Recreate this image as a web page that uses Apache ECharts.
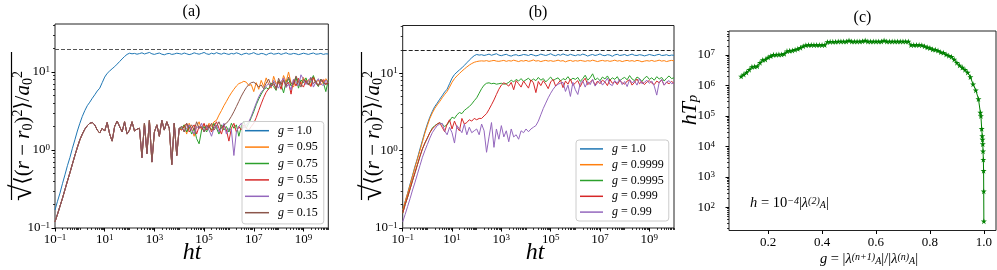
<!DOCTYPE html>
<html><head><meta charset="utf-8">
<script src="https://cdn.jsdelivr.net/npm/echarts@6/dist/echarts.min.js"></script>
<style>html,body{margin:0;padding:0;background:#fff}#c{width:997px;height:270px}</style>
</head><body><div id="c"></div><script>
// ---------------- DATA ----------------
// time grid: exponent of ht (log10)
const htExp = [
 -1.0,-0.9,-0.8,-0.7,-0.6,-0.5,-0.4,-0.3,-0.2,-0.1,
 0.0,0.1,0.2,0.3,0.4,0.5,0.6,0.7,0.8,0.9,
 1.0,1.1,1.2,1.3,1.4,1.5,1.6,1.7,1.8,1.9,
 2.0,2.1,2.2,2.3,2.4,2.5,2.6,2.7,2.8,2.9,
 3.0,3.1,3.2,3.3,3.4,3.5,3.6,3.7,3.8,3.9,
 4.0,4.1,4.2,4.3,4.4,4.5,4.6,4.7,4.8,4.9,
 5.0,5.1,5.2,5.3,5.4,5.5,5.6,5.7,5.8,5.9,
 6.0,6.1,6.2,6.3,6.4,6.5,6.6,6.7,6.8,6.9,
 7.0,7.1,7.2,7.3,7.4,7.5,7.6,7.7,7.8,7.9,
 8.0,8.1,8.2,8.3,8.4,8.5,8.6,8.7,8.8,8.9,
 9.0,9.1,9.2,9.3,9.4,9.5,9.6,9.7,9.8,9.9,
 10.0];

const legendA = ['1.0','0.95','0.75','0.55','0.35','0.15'];
const legendB = ['1.0','0.9999','0.9995','0.999','0.99'];
const saturationLevel = 19.7;

// g = 1.0 (same in panels a and b)
const blueG1 = [
 0.17,0.22,0.28,0.37,0.48,0.63,0.80,1.05,1.35,1.75,
 2.2,2.7,3.2,3.7,4.1,4.6,5.1,5.7,6.2,7.3,
 8.6,9.6,10.3,11.0,11.7,12.6,13.6,14.7,15.8,16.8,
 17.4,17.1,17.3,16.9,17.2,17.6,17.0,17.4,17.8,17.1,
 16.8,17.2,17.5,16.9,16.6,17.1,17.3,16.8,17.0,17.4,
 17.2,16.9,17.5,17.1,16.7,17.0,17.6,17.2,16.9,17.3,
 17.8,17.1,16.8,17.4,17.0,17.7,17.2,16.9,17.5,17.1,
 16.8,17.3,17.0,17.6,17.2,16.6,17.1,17.4,16.9,17.2,
 17.7,17.0,16.8,17.3,17.1,16.5,17.2,17.5,16.9,17.1,
 17.4,16.8,17.2,17.6,17.0,16.9,17.3,17.1,16.7,17.0,
 17.4,17.1,16.8,17.2,17.5,16.9,17.0,17.3,16.8,17.1,
 17.0];

// panel (a): common early part (ht = 1e-1 .. 1e4) for g < 1
const earlyA = [
 0.12,0.15,0.19,0.24,0.31,0.40,0.51,0.66,0.85,1.08,
 1.35,1.6,1.85,2.05,2.2,2.25,2.1,1.8,1.65,1.9,
 1.75,2.25,1.6,1.3,2.0,2.35,2.0,1.7,2.3,1.6,
 1.8,2.3,1.75,1.85,1.9,0.8,2.2,0.9,2.4,0.7,
 1.7,2.1,1.5,2.4,1.8,2.3,1.9,0.65,2.2,0.85,
 1.9];
// panel (a): late parts (ht = 10^4.1 .. 10^10)
const orangeLateA = [
 1.8,2.1,1.6,2.2,1.9,1.5,2.0,2.3,1.8,2.1,
 1.9,2.2,2.0,2.3,2.4,2.8,3.2,3.7,4.2,4.8,
 5.4,6.0,6.6,7.1,7.3,7.6,7.4,6.7,6.9,5.6,
 7.3,6.0,7.8,6.5,8.4,7.0,6.2,8.8,7.1,7.7,
 6.8,9.0,7.4,10.0,7.2,6.4,8.3,7.6,6.9,8.5,
 7.1,8.0,6.6,8.7,7.3,7.9,6.8,7.5,8.2,7.4];
const greenLateA = [
 1.9,2.1,1.7,2.0,1.6,1.9,1.4,1.2,1.8,2.0,
 1.7,2.0,1.8,2.2,1.9,1.6,2.1,1.8,2.0,1.7,
 2.2,1.9,2.1,1.5,2.0,2.3,1.9,2.2,2.6,3.1,
 3.8,4.5,5.2,5.9,6.3,6.0,7.2,6.5,5.8,7.7,
 6.9,5.4,7.5,8.2,6.6,7.1,8.6,6.2,7.9,7.3,
 8.4,6.8,7.6,9.0,7.2,6.5,8.1,7.4,5.6,7.9];
const redLateA = [
 1.8,2.0,2.2,1.7,1.9,2.1,1.6,2.0,1.9,2.2,
 1.8,2.1,1.7,2.0,2.3,1.9,1.6,2.1,1.8,1.3,
 1.9,2.2,1.7,2.0,1.8,2.1,1.9,1.8,2.0,2.2,
 2.6,3.2,3.9,4.7,5.5,6.1,6.6,7.0,6.3,7.5,
 6.0,8.0,6.8,7.4,5.2,7.9,6.6,8.3,7.0,6.4,
 7.8,7.1,6.5,8.5,7.2,6.8,7.5,8.0,6.9,7.3];
const purpleLateA = [
 2.0,1.7,1.9,2.1,1.8,1.6,2.0,1.9,2.2,1.7,
 2.0,1.8,1.5,1.9,2.1,1.7,1.9,2.2,1.6,1.9,
 1.8,0.85,1.7,2.0,2.2,1.9,2.1,2.3,2.7,3.3,
 4.0,4.8,5.5,6.0,6.6,7.1,6.4,7.8,6.9,6.2,
 7.5,8.4,6.3,7.0,5.9,8.1,7.3,6.6,9.2,8.0,
 6.9,7.7,8.6,6.4,7.4,8.2,7.0,6.7,7.9,7.2];
const brownLateA = [
 2.0,1.7,2.2,1.9,2.1,1.8,2.3,1.9,2.0,1.7,
 2.1,1.9,2.2,1.8,2.0,2.3,1.9,2.1,2.2,2.4,
 2.7,3.1,3.6,4.2,4.9,5.6,6.3,6.9,7.3,7.4,
 7.0,6.4,6.8,6.1,7.2,8.1,6.6,7.4,5.9,8.3,
 7.0,7.8,6.5,8.6,7.2,6.9,8.9,7.5,6.4,8.0,
 7.6,6.8,8.4,7.1,7.7,6.6,8.1,7.3,6.9,7.8];

// panel (b)
const orangeB = [
 0.17,0.22,0.28,0.36,0.47,0.61,0.78,1.0,1.3,1.68,
 2.1,2.6,3.05,3.5,3.9,4.3,4.8,5.3,5.8,6.6,
 7.6,8.5,9.2,9.9,10.6,11.3,12.0,12.7,13.3,13.8,
 14.1,14.3,14.4,14.3,14.5,14.2,14.4,14.6,14.3,14.2,
 14.4,14.6,14.2,14.5,14.3,14.7,14.4,14.1,14.5,14.3,
 14.6,14.2,14.4,14.8,14.3,14.5,14.1,14.4,14.6,14.3,
 14.5,14.2,14.4,14.7,14.3,14.5,14.0,14.4,14.6,14.2,
 14.5,14.3,14.6,14.4,14.2,14.5,14.3,14.7,14.4,14.1,
 14.4,14.6,14.3,14.5,14.2,14.4,14.7,14.3,14.5,14.1,
 14.4,14.6,14.3,14.5,14.2,14.6,14.4,14.0,14.3,14.5,
 14.3,14.6,14.2,14.4,14.7,14.3,14.5,14.1,14.4,14.6,
 14.4];
const greenB = [
 0.155,0.20,0.25,0.32,0.41,0.52,0.66,0.84,1.05,1.25,
 1.45,1.7,1.95,2.1,2.2,2.28,2.2,2.05,2.15,2.4,
 2.7,2.6,2.9,3.1,3.0,3.3,3.5,3.7,4.0,4.4,
 4.8,5.5,6.3,7.0,7.4,7.5,7.3,7.4,7.2,7.3,
 7.4,7.2,7.3,7.6,8.1,7.7,8.3,7.9,8.5,7.8,
 8.2,8.6,7.9,8.4,8.0,8.8,8.1,8.5,7.7,8.3,
 8.9,8.0,8.4,8.7,7.9,8.5,8.2,9.0,8.1,8.6,
 8.3,8.8,7.8,8.5,9.4,8.1,8.7,9.8,8.2,8.6,
 8.0,8.9,8.4,9.2,8.1,8.7,8.3,9.0,7.9,8.5,
 8.8,8.2,9.3,8.4,8.0,8.9,8.5,7.8,8.6,9.1,
 8.3,8.7,8.1,9.0,8.4,8.8,7.9,8.6,9.2,8.5,
 8.7];
const redB = [
 0.155,0.20,0.25,0.32,0.41,0.52,0.66,0.84,1.05,1.25,
 1.45,1.7,1.9,2.05,2.2,2.3,2.0,1.75,2.2,2.5,
 1.9,2.4,2.0,1.8,2.6,2.2,2.3,2.5,2.4,2.6,
 2.5,2.6,2.6,2.8,3.0,3.4,3.9,4.5,5.3,6.2,
 7.0,7.5,7.2,6.8,7.6,6.1,8.0,7.3,6.6,7.9,
 7.1,6.4,8.2,7.5,5.6,7.8,6.9,8.0,7.2,6.3,
 7.7,8.3,6.8,7.4,8.1,6.5,7.9,7.2,8.4,6.9,
 7.5,8.0,6.7,7.8,8.6,7.1,7.6,8.2,7.0,7.9,
 7.3,8.1,7.7,6.9,8.3,7.4,7.8,7.1,8.0,7.5,
 7.2,7.9,8.2,7.0,7.6,8.4,7.3,7.8,7.1,7.7,
 8.0,7.4,7.1,7.9,7.5,8.2,7.0,7.6,7.3,7.8,
 7.4];
const purpleB = [
 0.12,0.15,0.19,0.24,0.31,0.39,0.50,0.64,0.82,1.0,
 1.2,1.45,1.7,1.9,2.1,2.2,2.25,1.8,1.6,2.0,
 1.7,1.25,2.1,1.9,1.7,2.2,1.6,2.0,1.7,1.8,
 1.9,1.6,2.2,1.8,0.95,1.5,2.3,1.1,1.9,1.4,
 2.1,1.5,1.8,1.3,1.9,1.5,1.6,1.4,1.8,1.7,
 1.9,1.75,1.9,2.0,2.1,2.4,2.9,3.5,4.1,4.8,
 5.5,6.2,6.8,7.2,7.4,7.6,5.8,7.0,5.0,7.6,
 6.1,5.3,7.4,8.0,6.6,7.8,7.1,8.3,6.8,7.5,
 8.1,7.0,7.7,8.6,7.2,6.9,8.0,7.4,8.4,7.1,
 7.8,6.7,8.2,7.5,7.9,7.0,8.5,7.3,7.6,8.1,
 7.4,7.9,6.8,5.2,7.6,8.3,7.0,7.7,8.0,7.3,
 7.5];

// panel (c)
const gValues = [
 0.10,0.11,0.12,0.13,0.14,0.15,0.16,0.17,0.18,0.19,
 0.20,0.21,0.22,0.23,0.24,0.25,0.26,0.27,0.28,0.29,
 0.30,0.31,0.32,0.33,0.34,0.35,0.36,0.37,0.38,0.39,
 0.40,0.41,0.42,0.43,0.44,0.45,0.46,0.47,0.48,0.49,
 0.50,0.51,0.52,0.53,0.54,0.55,0.56,0.57,0.58,0.59,
 0.60,0.61,0.62,0.63,0.64,0.65,0.66,0.67,0.68,0.69,
 0.70,0.71,0.72,0.73,0.74,0.75,0.76,0.77,0.78,0.79,
 0.80,0.81,0.82,0.83,0.84,0.85,0.86,0.87,0.88,0.89,
 0.90,0.91,0.92,0.93,0.94,0.95,0.96,0.97,0.98,
 0.987,0.989,0.992,0.994,0.995,0.996,0.997,0.998,0.999,0.9995,1.0];
const hTp = [
 2.0e6,2.3e6,2.7e6,3.3e6,4.1e6,4.2e6,4.3e6,5.6e6,6.9e6,7.2e6,
 8.4e6,9.3e6,1.02e7,1.03e7,1.04e7,1.05e7,1.1e7,1.35e7,1.38e7,1.42e7,
 1.5e7,1.6e7,1.75e7,1.95e7,2.1e7,2.15e7,2.15e7,2.15e7,2.15e7,2.15e7,
 2.15e7,2.15e7,2.7e7,2.75e7,2.75e7,2.75e7,2.8e7,2.8e7,2.8e7,2.8e7,
 3.0e7,2.8e7,2.8e7,2.8e7,2.8e7,2.85e7,3.0e7,2.8e7,2.8e7,2.8e7,
 2.8e7,2.8e7,2.8e7,3.0e7,2.8e7,2.8e7,2.8e7,2.8e7,2.8e7,2.8e7,
 2.8e7,2.8e7,2.8e7,2.15e7,2.15e7,2.15e7,2.15e7,2.1e7,1.95e7,1.8e7,
 1.7e7,1.55e7,1.5e7,1.4e7,1.25e7,1.2e7,1.05e7,9.5e6,8.8e6,7.2e6,
 5.6e6,4.6e6,3.9e6,3.3e6,2.7e6,1.9e6,1.1e6,7.0e5,3.6e5,
 1.3e5,1.0e5,3.8e4,2.2e4,1.7e4,1.2e4,7.0e3,3.7e3,1.6e3,340,35];

// tick positions (log10 exponents / linear values)
const xTicksAB = [-1,1,3,5,7,9];
const yTicksAB = [-1,0,1];
const xTicksC = [0.2,0.4,0.6,0.8,1.0];
const yTicksC = [2,3,4,5,6,7];

// ---------------- CHART ----------------
const SERIF = "'Liberation Serif','DejaVu Serif',serif";
const C = ['#1f77b4','#ff7f0e','#2ca02c','#d62728','#9467bd','#8c564b'];
const STAR = 'path://M50,0 L61,35 L98,35 L68,57 L79,91 L50,70 L21,91 L32,57 L2,35 L39,35 Z';

function toPairs(xs, ys){ return ys.map((v,i)=>[xs[i], Math.log10(v)]); }
function minorLog(lo, hi, majors){
  const out=[];
  for(let n=Math.floor(lo); n<=Math.ceil(hi); n++){
    for(let k=1;k<=9;k++){
      const v=n+Math.log10(k);
      if(v>=lo-1e-9 && v<=hi+1e-9 && !majors.some(m=>Math.abs(m-v)<1e-6)) out.push(v);
    }
  }
  return out;
}
const supRich = {
  b:{fontSize:13,lineHeight:13,fontFamily:SERIF,color:'#000',verticalAlign:'bottom'},
  s:{fontSize:9,lineHeight:9,fontFamily:SERIF,color:'#000',verticalAlign:'top',padding:[0,0,7,0]}
};
function powLabel(v){ const e=Math.round(v); return '{b|10}{s|'+(e<0?'\u2212'+(-e):e)+'}'; }

function mkAxis(grid, min, max, majors, minors, isX, fmt, rich, margin){
  const pos = isX ? 'bottom' : 'left';
  const main = {
    gridIndex:grid, type:'value', min:min, max:max, position:pos,
    axisLine:{show:false, onZero:false}, splitLine:{show:false},
    axisTick:{show:true, customValues:majors, length:3.5, lineStyle:{color:'#000',width:1}},
    axisLabel:{show:true, customValues:majors, formatter:fmt, rich:rich, margin:margin||5,
      color:'#000', fontFamily:SERIF, fontSize:13, showMinLabel:true, showMaxLabel:true, hideOverlap:false}
  };
  const axes=[main];
  if(minors){
    axes.push({gridIndex:grid, type:'value', min:min, max:max, position:pos,
      axisLine:{show:false, onZero:false}, splitLine:{show:false},
      axisTick:{show:true, customValues:minors, length:2, lineStyle:{color:'#000',width:0.8}},
      axisLabel:{show:false}});
  }
  return axes;
}

const xMinAB=-1, xMaxAB=10, yMinAB=-1, yMaxAB=1.615;
const xMinC=0.055, xMaxC=1.045, yMinC=1.24, yMaxC=7.79;

const xAxis = [].concat(
  mkAxis(0,xMinAB,xMaxAB,xTicksAB,minorLog(xMinAB,xMaxAB,xTicksAB),true,powLabel,supRich),
  mkAxis(1,xMinAB,xMaxAB,xTicksAB,minorLog(xMinAB,xMaxAB,xTicksAB),true,powLabel,supRich),
  mkAxis(2,xMinC,xMaxC,xTicksC,null,true,v=>v.toFixed(1),null,6)
);
const yAxis = [].concat(
  mkAxis(0,yMinAB,yMaxAB,yTicksAB,minorLog(yMinAB,yMaxAB,yTicksAB),false,powLabel,supRich),
  mkAxis(1,yMinAB,yMaxAB,yTicksAB,minorLog(yMinAB,yMaxAB,yTicksAB),false,powLabel,supRich),
  mkAxis(2,yMinC,yMaxC,yTicksC,minorLog(yMinC,yMaxC,yTicksC),false,powLabel,supRich,14)
);
// axis indices: x: a=0, b=2, c=4 ; y: a=0, b=2, c=4

function lineSeries(name, xi, yi, data, color, extra){
  return Object.assign({
    name:name, type:'line', xAxisIndex:xi, yAxisIndex:yi, data:data,
    showSymbol:false, symbol:'none', color:color,
    lineStyle:{width:1, color:color}, animation:false, silent:true
  }, extra||{});
}
function dashed(color){
  return {markLine:{silent:true, symbol:['none','none'], label:{show:false},
    lineStyle:{type:[4,2], color:color, width:1}, data:[{yAxis:Math.log10(saturationLevel)}], animation:false}};
}

const lateA = [orangeLateA, greenLateA, redLateA, purpleLateA, brownLateA];
const namesA = legendA.map((_,i)=>'a'+i);
const namesB = legendB.map((_,i)=>'b'+i);
const series = [];
series.push(lineSeries(namesA[0],0,0,toPairs(htExp,blueG1),C[0],dashed('#555')));
lateA.forEach((late,i)=>series.push(lineSeries(namesA[i+1],0,0,toPairs(htExp,earlyA.concat(late)),C[i+1])));
const dataB = [blueG1, orangeB, greenB, redB, purpleB];
dataB.forEach((d,i)=>series.push(lineSeries(namesB[i],2,2,toPairs(htExp,d),C[i], i===0?dashed('#222'):null)));
series.push({
  name:'c', type:'line', xAxisIndex:4, yAxisIndex:4,
  data: gValues.map((g,i)=>[g, Math.log10(hTp[i])]),
  symbol:STAR, symbolSize:6, showSymbol:true, color:'#008000',
  lineStyle:{width:1,color:'#008000'}, itemStyle:{color:'#008000'}, animation:false, silent:true
});

const labelMap = {};
namesA.forEach((n,i)=>labelMap[n]=legendA[i]);
namesB.forEach((n,i)=>labelMap[n]=legendB[i]);
const legRich = {
  i:{fontFamily:SERIF,fontStyle:'italic',fontSize:12,color:'#000'},
  t:{fontFamily:SERIF,fontSize:12,color:'#000'}
};
function legendCfg(names, left, top, lh, pad, iw){
  return {data:names, orient:'vertical', left:left, top:top, itemWidth:iw, itemHeight:1.5, itemGap:0,
    icon:'rect', selectedMode:false, padding:pad, backgroundColor:'rgba(255,255,255,0.85)',
    borderColor:'#ccc', borderWidth:1, borderRadius:3,
    textStyle:{fontFamily:SERIF,fontSize:12,lineHeight:lh,color:'#000',padding:[0,0,0,4],rich:legRich},
    formatter:n=>'{i|g}{t| = '+labelMap[n]+'}'};
}

const ylabRich = {
  sq:{fontFamily:SERIF,fontSize:30,lineHeight:24,fill:'#000',color:'#000'},
  n:{fontFamily:SERIF,fontSize:21,lineHeight:21,fill:'#000',color:'#000'},
  i:{fontFamily:SERIF,fontSize:21,lineHeight:21,fontStyle:'italic',fill:'#000',color:'#000'},
  sp:{fontFamily:SERIF,fontSize:14,lineHeight:14,fill:'#000',color:'#000',verticalAlign:'top',padding:[0,0,10,0]},
  sb:{fontFamily:SERIF,fontSize:14,lineHeight:14,fill:'#000',color:'#000',verticalAlign:'bottom',padding:[10,0,0,0]}
};
const ylabText = '{sq|\u221A}{n|\u27E8(}{i|r}{n| \u2212 }{i|r}{sb|0}{n|)}{sp|2}{n|\u27E9/}{i|a}{sb|0}{sp|2}';
const smallRich = {
  n:{fontFamily:SERIF,fontSize:14.5,lineHeight:14,fill:'#000',color:'#000'},
  i:{fontFamily:SERIF,fontSize:14.5,lineHeight:14,fontStyle:'italic',fill:'#000',color:'#000'},
  sp:{fontFamily:SERIF,fontSize:10,lineHeight:9,fontStyle:'italic',fill:'#000',color:'#000',verticalAlign:'top',padding:[0,0,9,0]},
  sb:{fontFamily:SERIF,fontSize:10,lineHeight:9,fontStyle:'italic',fill:'#000',color:'#000',verticalAlign:'bottom',padding:[9,0,0,0]}
};
function txt(x,y,text,rich,extra){
  return Object.assign({type:'text', x:x, y:y, silent:true,
    style:{text:text, rich:rich, fontFamily:SERIF, fill:'#000', align:'center', verticalAlign:'middle',
      textAlign:'center', textVerticalAlign:'middle'}}, extra||{});
}
function vinculum(x, y1, y2){
  return {type:'line', silent:true, shape:{x1:x, y1:y1, x2:x, y2:y2}, style:{stroke:'#000', lineWidth:1.2}};
}
const titleRich = {n:{fontFamily:SERIF,fontSize:16,fill:'#000',color:'#000'}};
const htRich = {i:{fontFamily:SERIF,fontSize:24,fontStyle:'italic',fill:'#000',color:'#000'}};
const hTpRich = {
  i:{fontFamily:SERIF,fontSize:22,lineHeight:22,fontStyle:'italic',fill:'#000',color:'#000'},
  sb:{fontFamily:SERIF,fontSize:15,lineHeight:15,fontStyle:'italic',fill:'#000',color:'#000',verticalAlign:'bottom',padding:[9,0,0,0]}
};

const annotC = txt(750,203,'{i|h}{n| = 10}{sp|\u22124}{n||}{i|\u03BB}{sp|(2)}{sb|A}{n||}',smallRich);
annotC.style.align='left'; annotC.style.textAlign='left';

const option = {
  animation:false,
  backgroundColor:'#fff',
  grid:[
    {left:55, top:24, width:273.3, height:204, show:true, borderColor:'#222', borderWidth:1, backgroundColor:'transparent'},
    {left:402.7, top:25.5, width:271.3, height:202.5, show:true, borderColor:'#222', borderWidth:1, backgroundColor:'transparent'},
    {left:729, top:31, width:267, height:199.5, show:true, borderColor:'#222', borderWidth:1, backgroundColor:'transparent'}
  ],
  xAxis:xAxis, yAxis:yAxis,
  legend:[
    legendCfg(namesA, 242, 121.5, 16.4, [1,6,3,3], 24),
    legendCfg(namesB, 576, 140, 15.8, [1,5,1,4], 23)
  ],
  series:series,
  graphic:[
    txt(191.5,12,'{n|(a)}',titleRich),
    txt(538,12.5,'{n|(b)}',titleRich),
    txt(862.5,18,'{n|(c)}',titleRich),
    txt(192,253,'{i|ht}',htRich),
    txt(535,253,'{i|ht}',htRich),
    txt(23,136,ylabText,ylabRich,{rotation:Math.PI/2}),
    txt(373,136,ylabText,ylabRich,{rotation:Math.PI/2}),
    vinculum(11.5, 52, 200),
    vinculum(361.5, 52, 200),
    txt(690,110,'{i|hT}{sb|p}',hTpRich,{rotation:Math.PI/2}),
    txt(869,259,'{i|g}{n| = |}{i|\u03BB}{sp|(n+1)}{sb|A}{n||/|}{i|\u03BB}{sp|(n)}{sb|A}{n||}',smallRich),
    annotC
  ]
};

const chart = echarts.init(document.getElementById('c'), null, {renderer:'canvas'});
chart.setOption(option);
</script></body></html>
